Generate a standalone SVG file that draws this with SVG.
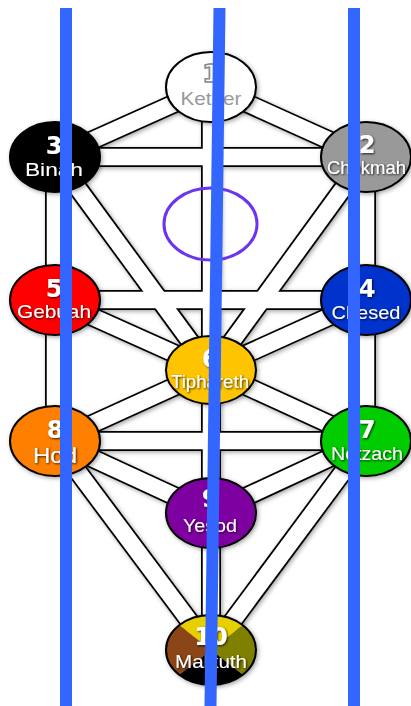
<svg xmlns="http://www.w3.org/2000/svg" width="411" height="706" viewBox="0 0 411 706">
<defs>
<style>
.o{stroke:#000;stroke-width:20;fill:none}
.w{stroke:#fff;stroke-width:16.5;fill:none}
.n{stroke:#000;stroke-width:2}
.num{font-family:"DejaVu Sans",sans-serif;font-weight:bold;font-size:24px;fill:#fff;text-anchor:middle;filter:url(#ts)}
.nm{font-family:"Liberation Sans",Arial,sans-serif;font-size:19px;fill:#fff;text-anchor:middle;filter:url(#ts)}
.pillar{stroke:#3366ff;stroke-width:12;fill:none}
</style>
<filter id="sh" x="-20%" y="-20%" width="140%" height="140%">
<feDropShadow dx="1.5" dy="1.5" stdDeviation="2" flood-color="#000" flood-opacity="0.35"/>
</filter>
<filter id="ts" x="-20%" y="-30%" width="140%" height="160%">
<feDropShadow dx="1" dy="1" stdDeviation="0.8" flood-color="#000" flood-opacity="0.8"/>
</filter>
<clipPath id="mclip"><ellipse cx="211" cy="650" rx="45" ry="35"/></clipPath>
</defs>
<rect width="411" height="706" fill="#fff"/>
<g id="connectors">
<g class="o" filter="url(#sh)">
<line x1="211" y1="87" x2="366" y2="157"/>
<line x1="211" y1="87" x2="55" y2="157"/>
<line x1="211" y1="87" x2="211" y2="370"/>
<line x1="55" y1="157" x2="366" y2="157"/>
<line x1="366" y1="157" x2="366" y2="300"/>
<line x1="55" y1="157" x2="55" y2="300"/>
<line x1="366" y1="157" x2="211" y2="370"/>
<line x1="55" y1="157" x2="211" y2="370"/>
<line x1="55" y1="300" x2="366" y2="300"/>
<line x1="366" y1="300" x2="211" y2="370"/>
<line x1="55" y1="300" x2="211" y2="370"/>
<line x1="366" y1="300" x2="366" y2="441"/>
<line x1="55" y1="300" x2="55" y2="441"/>
<line x1="211" y1="370" x2="366" y2="441"/>
<line x1="211" y1="370" x2="55" y2="441"/>
<line x1="211" y1="370" x2="211" y2="513"/>
<line x1="55" y1="441" x2="366" y2="441"/>
<line x1="366" y1="441" x2="211" y2="513"/>
<line x1="55" y1="441" x2="211" y2="513"/>
<line x1="366" y1="441" x2="211" y2="650"/>
<line x1="55" y1="441" x2="211" y2="650"/>
<line x1="211" y1="513" x2="211" y2="650"/>
</g>
<g class="w">
<line x1="211" y1="87" x2="366" y2="157"/>
<line x1="211" y1="87" x2="55" y2="157"/>
<line x1="211" y1="87" x2="211" y2="370"/>
<line x1="55" y1="157" x2="366" y2="157"/>
<line x1="366" y1="157" x2="366" y2="300"/>
<line x1="55" y1="157" x2="55" y2="300"/>
<line x1="366" y1="157" x2="211" y2="370"/>
<line x1="55" y1="157" x2="211" y2="370"/>
<line x1="55" y1="300" x2="366" y2="300"/>
<line x1="366" y1="300" x2="211" y2="370"/>
<line x1="55" y1="300" x2="211" y2="370"/>
<line x1="366" y1="300" x2="366" y2="441"/>
<line x1="55" y1="300" x2="55" y2="441"/>
<line x1="211" y1="370" x2="366" y2="441"/>
<line x1="211" y1="370" x2="55" y2="441"/>
<line x1="211" y1="370" x2="211" y2="513"/>
<line x1="55" y1="441" x2="366" y2="441"/>
<line x1="366" y1="441" x2="211" y2="513"/>
<line x1="55" y1="441" x2="211" y2="513"/>
<line x1="366" y1="441" x2="211" y2="650"/>
<line x1="55" y1="441" x2="211" y2="650"/>
<line x1="211" y1="513" x2="211" y2="650"/>
</g>
</g>
<g id="daath"><ellipse cx="210.5" cy="224" rx="46.5" ry="36" fill="none" stroke="#6a35f0" stroke-width="3"/></g>
<g id="kether">
<ellipse class="n" cx="211" cy="87" rx="45" ry="35" fill="#fff" filter="url(#sh)"/>
<text x="211" y="82" font-family="DejaVu Sans,sans-serif" font-weight="bold" font-size="25" fill="#fff" stroke="#888" stroke-width="1.6" text-anchor="middle">1</text>
<text x="211" y="105" font-family="Liberation Sans,Arial,sans-serif" font-size="19" fill="#999" text-anchor="middle" textLength="61" lengthAdjust="spacingAndGlyphs">Kether</text>
</g>
<g id="chokmah">
<ellipse class="n" cx="366" cy="157" rx="45" ry="35" fill="#999" filter="url(#sh)"/>
<text class="num" x="367" y="153">2</text>
<text class="nm" x="366.5" y="174" textLength="79" lengthAdjust="spacingAndGlyphs">Chokmah</text>
</g>
<g id="binah">
<ellipse class="n" cx="55" cy="157" rx="45" ry="35" fill="#000" filter="url(#sh)"/>
<text class="num" x="54" y="154">3</text>
<text class="nm" x="54" y="176" textLength="58" lengthAdjust="spacingAndGlyphs">Binah</text>
</g>
<g id="chesed">
<ellipse class="n" cx="366" cy="300" rx="45" ry="35" fill="#0033cc" filter="url(#sh)"/>
<text class="num" x="367" y="297">4</text>
<text class="nm" x="366" y="319" textLength="69" lengthAdjust="spacingAndGlyphs">Chesed</text>
</g>
<g id="gebuah">
<ellipse class="n" cx="55" cy="300" rx="45" ry="35" fill="#ff0000" filter="url(#sh)"/>
<text class="num" x="54" y="297">5</text>
<text class="nm" x="54" y="318" textLength="74" lengthAdjust="spacingAndGlyphs">Gebuah</text>
</g>
<g id="tiphareth">
<ellipse class="n" cx="211" cy="370" rx="45" ry="34" fill="#ffc400" filter="url(#sh)"/>
<text class="num" x="210" y="367">6</text>
<text class="nm" x="210" y="388" textLength="78" lengthAdjust="spacingAndGlyphs">Tiphareth</text>
</g>
<g id="netzach">
<ellipse class="n" cx="366" cy="441" rx="45" ry="35" fill="#00cc00" filter="url(#sh)"/>
<text class="num" x="367" y="438">7</text>
<text class="nm" x="367" y="460" textLength="72" lengthAdjust="spacingAndGlyphs">Netzach</text>
</g>
<g id="hod">
<ellipse class="n" cx="55" cy="441" rx="45" ry="35" fill="#ff8000" filter="url(#sh)"/>
<text class="num" x="55" y="438">8</text>
<text class="nm" x="55" y="463" style="font-size:22px" textLength="44" lengthAdjust="spacingAndGlyphs">Hod</text>
</g>
<g id="yesod">
<ellipse class="n" cx="211" cy="513" rx="45" ry="35" fill="#7f00a0" filter="url(#sh)"/>
<text class="num" x="210" y="507">9</text>
<text class="nm" x="210" y="532" textLength="54" lengthAdjust="spacingAndGlyphs">Yesod</text>
</g>
<g id="malkuth">
<g filter="url(#sh)">
<g clip-path="url(#mclip)">
<polygon points="211,650 166,615 256,615" fill="#e8d000"/>
<polygon points="211,650 256,615 256,685" fill="#808000"/>
<polygon points="211,650 256,685 166,685" fill="#000"/>
<polygon points="211,650 166,685 166,615" fill="#8b4513"/>
</g>
<ellipse class="n" cx="211" cy="650" rx="45" ry="35" fill="none"/>
</g>
<text class="num" x="211" y="645">10</text>
<text class="nm" x="211" y="668" textLength="72" lengthAdjust="spacingAndGlyphs">Malkuth</text>
</g>
<g id="pillars">
<line class="pillar" x1="66" y1="8" x2="66" y2="706"/>
<line class="pillar" x1="219.5" y1="8" x2="210.5" y2="706"/>
<line class="pillar" x1="354" y1="8" x2="354" y2="706"/>
</g>
</svg>
